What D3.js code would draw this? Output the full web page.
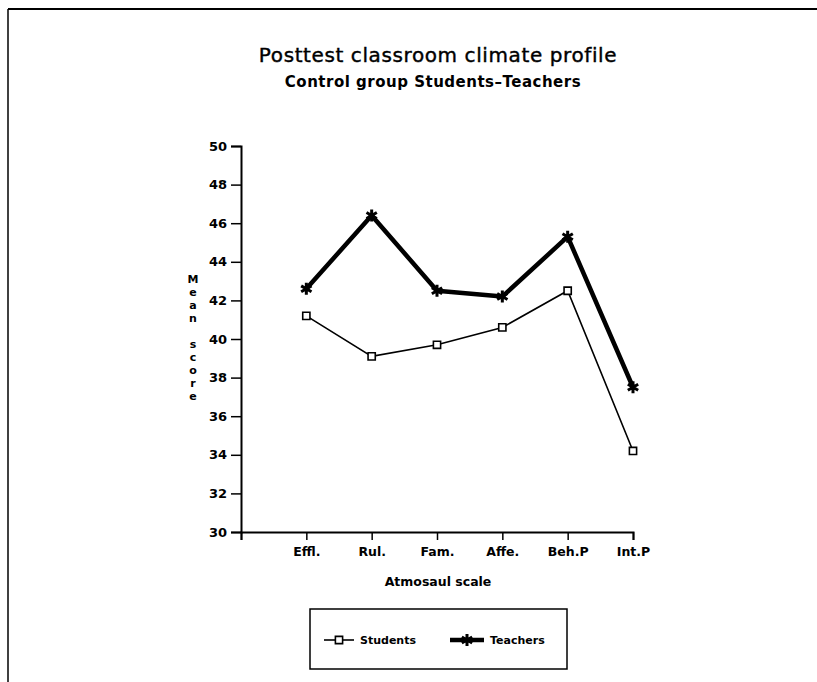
<!DOCTYPE html>
<html>
<head>
<meta charset="utf-8">
<script src="https://cdn.jsdelivr.net/npm/d3@7"></script>
<style>
  body { margin: 0; background: #fff; }
  svg { display: block; }
  text { font-family: "DejaVu Sans", Verdana, sans-serif; fill: #000; }
</style>
</head>
<body>
<div id="chart"></div>
<script>
// chart data
const categories = ["Effl.", "Rul.", "Fam.", "Affe.", "Beh.P", "Int.P"];
const students = [41.2, 39.1, 39.7, 40.6, 42.5, 34.2];
const teachers = [42.6, 46.4, 42.5, 42.2, 45.3, 37.5];
const yTicks = [30, 32, 34, 36, 38, 40, 42, 44, 46, 48, 50];
const titleText = "Posttest classroom climate profile";
const subtitleText = "Control group Students\u2013Teachers";
const xTitle = "Atmosaul scale";
const yTitle = "Mean score";

const width = 817, height = 682;
const font = "'DejaVu Sans', Verdana, sans-serif";

const svg = d3.select("#chart").append("svg")
    .attr("width", width)
    .attr("height", height)
    .attr("viewBox", `0 0 ${width} ${height}`);

// page frame (only top + left edges show in the scan)
svg.append("line").attr("x1", 8).attr("y1", 9).attr("x2", width).attr("y2", 9)
    .attr("stroke", "#000").attr("stroke-width", 2);
svg.append("line").attr("x1", 8).attr("y1", 9).attr("x2", 8).attr("y2", height)
    .attr("stroke", "#000").attr("stroke-width", 1.5);

// titles
svg.append("text").attr("x", 438).attr("y", 62)
    .attr("text-anchor", "middle").attr("font-size", 20)
    .attr("letter-spacing", 0.6)
    .attr("stroke", "#000").attr("stroke-width", 0.4)
    .text(titleText);
svg.append("text").attr("x", 433).attr("y", 87)
    .attr("text-anchor", "middle").attr("font-size", 15).attr("font-weight", "bold")
    .attr("letter-spacing", 0.5)
    .text(subtitleText);

// scales: category i sits at position i+1, position 0 is the axis origin
const x = d3.scaleLinear().domain([0, categories.length]).range([241, 633]);
const y = d3.scaleLinear().domain([30, 50]).range([532, 146]);

// y axis
const yAxis = svg.append("g")
    .attr("transform", "translate(241,0)")
    .call(d3.axisLeft(y).tickValues(yTicks).tickSize(10).tickPadding(4).tickFormat(d3.format("d")));
yAxis.select(".domain").attr("stroke-width", 2);
yAxis.selectAll(".tick line").attr("stroke-width", 1.5);
yAxis.selectAll("text").attr("font-size", 13).attr("font-weight", "bold")
    .style("font-family", font);

// x axis
const xAxis = svg.append("g")
    .attr("transform", "translate(0,532)")
    .call(d3.axisBottom(x).tickValues(d3.range(0, categories.length + 1)).tickSize(8).tickPadding(7)
        .tickFormat(d => d === 0 ? "" : categories[d - 1]));
xAxis.select(".domain").attr("stroke-width", 2);
xAxis.selectAll(".tick line").attr("stroke-width", 1.5);
xAxis.selectAll("text").attr("font-size", 12.5).attr("font-weight", "bold")
    .style("font-family", font);

// axis titles
svg.append("text").attr("x", 438).attr("y", 586)
    .attr("text-anchor", "middle").attr("font-size", 12.5).attr("font-weight", "bold")
    .text(xTitle);

// y title, one letter per row
svg.append("g").selectAll("text")
    .data(yTitle.split(""))
    .join("text")
    .attr("x", 193)
    .attr("y", (d, i) => 283 + i * 13)
    .attr("text-anchor", "middle")
    .attr("font-size", 11).attr("font-weight", "bold")
    .text(d => d.trim());

// lines
const line = d3.line()
    .x((d, i) => x(i + 1))
    .y(d => y(d));

svg.append("path").datum(students)
    .attr("d", line).attr("fill", "none")
    .attr("stroke", "#000").attr("stroke-width", 1.6);

svg.append("path").datum(teachers)
    .attr("d", line).attr("fill", "none")
    .attr("stroke", "#000").attr("stroke-width", 4.5)
    .attr("stroke-linejoin", "round");

// markers
const square = d3.symbol(d3.symbolSquare, 52);
const star = d3.symbol(d3.symbolAsterisk, 100);

svg.append("g").selectAll("path")
    .data(students)
    .join("path")
    .attr("transform", (d, i) => `translate(${x(i + 1)},${y(d)})`)
    .attr("d", square)
    .attr("fill", "#fff").attr("stroke", "#000").attr("stroke-width", 1.6);

svg.append("g").selectAll("path")
    .data(teachers)
    .join("path")
    .attr("transform", (d, i) => `translate(${x(i + 1)},${y(d)})`)
    .attr("d", star)
    .attr("fill", "none").attr("stroke", "#000").attr("stroke-width", 3);

// legend
const legend = svg.append("g").attr("transform", "translate(310,609)");
legend.append("rect").attr("width", 257).attr("height", 60)
    .attr("fill", "#fff").attr("stroke", "#000").attr("stroke-width", 1.5);

const legendItems = [
    { name: "Students", sw: 1.6, sym: square, fill: "#fff", mw: 1.6, x: 14, len: 30 },
    { name: "Teachers", sw: 4.5, sym: star, fill: "none", mw: 3, x: 140, len: 34 }
];
const li = legend.selectAll("g.item")
    .data(legendItems)
    .join("g")
    .attr("class", "item")
    .attr("transform", d => `translate(${d.x},31)`);
li.append("line").attr("x1", 0).attr("x2", d => d.len).attr("y1", 0).attr("y2", 0)
    .attr("stroke", "#000").attr("stroke-width", d => d.sw);
li.append("path").attr("transform", d => `translate(${d.len / 2},0)`)
    .attr("d", d => d.sym())
    .attr("fill", d => d.fill).attr("stroke", "#000").attr("stroke-width", d => d.mw);
li.append("text").attr("x", d => d.len + 6).attr("y", 4)
    .attr("font-size", 11).attr("font-weight", "bold")
    .text(d => d.name);
</script>
</body>
</html>
